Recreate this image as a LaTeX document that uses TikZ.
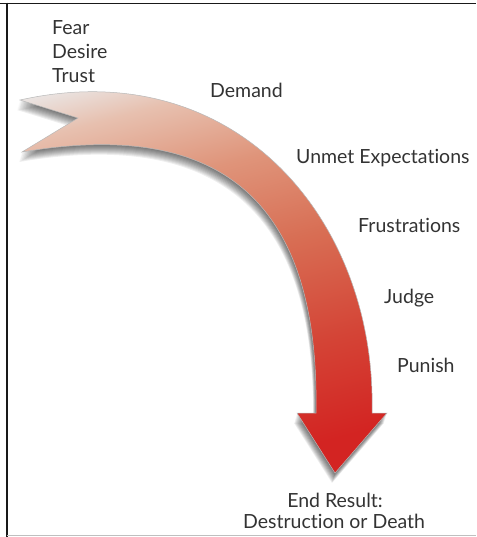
\documentclass[tikz,border=0pt]{standalone}
\usepackage{fontspec}
\setmainfont{Lato}[Ligatures={NoCommon}]
\definecolor{txt}{HTML}{333333}
\definecolor{tailc}{RGB}{234,228,226}
\definecolor{cA}{RGB}{231,192,175}
\definecolor{cB}{RGB}{223,148,122}
\definecolor{cC}{RGB}{216,110,84}
\definecolor{cD}{RGB}{212,68,54}
\definecolor{headc}{RGB}{211,36,34}
\pgfdeclareverticalshading{arrowshade}{100bp}{color(0bp)=(headc); color(25bp)=(headc); color(37bp)=(cD); color(50bp)=(cC); color(61bp)=(cB); color(70bp)=(cA); color(75bp)=(tailc); color(100bp)=(tailc)}
\newcommand{\arrowpath}{(20,100) .. controls (235,52) and (377,220) .. (372,413)
  -- (387,413) -- (335,473) -- (297,413) -- (316,413)
  .. controls (320,190) and (210,120) .. (22,152) -- (78,118) -- cycle}
\begin{document}
\begin{tikzpicture}[x=1pt,y=-1pt,
  lbl/.style={font=\fontsize{19.5}{23.5}\selectfont, text=txt, inner sep=0pt, anchor=base west},
  shadowlayer/.style={fill=black, fill opacity=0.065},
  bigarrow/.style={draw=black!28, line width=0.5pt, shading=arrowshade, shading angle=15}]
\useasboundingbox (0,0) rectangle (476,537);
\fill[white] (0,0) rectangle (476,537);
\draw[black!90, line width=1.8pt] (0,3.5) -- (476,3.5);
\draw[black!90, line width=2pt] (7,2.6) -- (7,536.5);
\draw[black!25, line width=1pt] (7,535.8) -- (476,535.8);

\foreach \s in {1,2,...,10} {
  \fill[shadowlayer, shift={(-0.3*\s,\s)}] \arrowpath;
}
\shade[bigarrow] \arrowpath;

\node[lbl] (fear) at (52,35) {Fear};
\node[lbl] (desire) at (52,59) {Desire};
\node[lbl] (trust) at (52,82.5) {Trust};
\node[lbl] (demand) at (210,97.5) {Demand};
\node[lbl] (unmet) at (296,163.5) {Unmet Expectations};
\node[lbl] (frus) at (358,232.5) {Frustrations};
\node[lbl] (judge) at (384,303) {Judge};
\node[lbl] (punish) at (397,372) {Punish};
\node[lbl, anchor=base] (endr) at (335,507) {End Result:};
\node[lbl, anchor=base] (dest) at (334,528.5) {Destruction or Death};
\end{tikzpicture}
\end{document}
